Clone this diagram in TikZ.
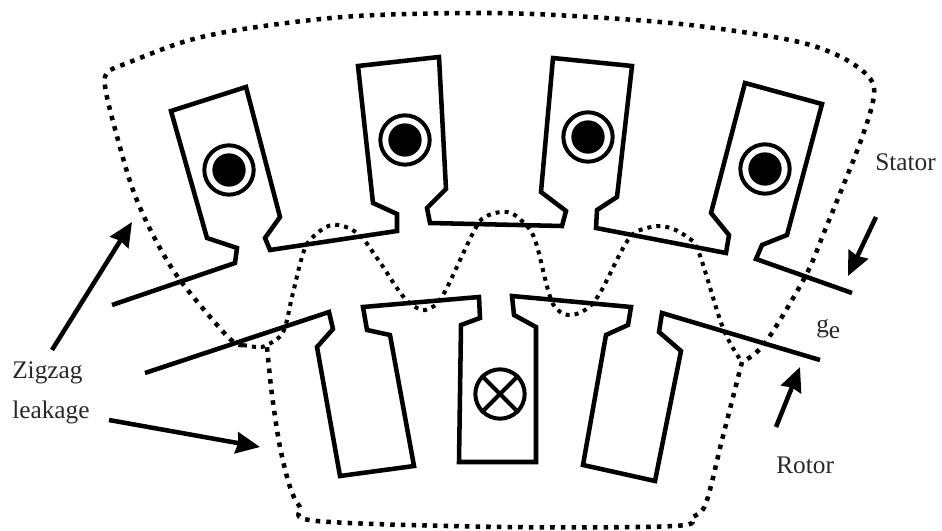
\documentclass[tikz,border=0pt]{standalone}
\usepackage{fontspec}
\setmainfont{Liberation Serif}
\usetikzlibrary{arrows.meta,positioning}
\definecolor{ink}{RGB}{40,40,40}
\tikzset{
  core/.style   = {draw=black, line width=3.4pt, line join=miter},
  leak/.style   = {draw=black, line width=3.4pt, dash pattern=on 3.4pt off 4.6pt},
  leakfine/.style = {draw=black, line width=3pt, dash pattern=on 3pt off 3.8pt},
  pointer/.style = {-{Stealth[length=18pt, width=16pt, inset=1.5pt]}, draw=black, line width=3.4pt},
  ring/.style   = {circle, draw=black, line width=3pt, minimum size=37pt, inner sep=0pt},
  bead/.style   = {circle, fill=black, minimum size=25pt, inner sep=0pt},
  tag/.style    = {text=ink, font=\fontsize{19}{22}\selectfont, inner sep=0pt, anchor=base west},
}
\begin{document}
\begin{tikzpicture}[x=0.75pt, y=-0.75pt]
\useasboundingbox (0,0) rectangle (942,531);

% stator and rotor outlines
\draw[core] (112,305) -- (235,263) -- (237,248) -- (207,238) -- (171,111) -- (246,87)
  -- (280,217) -- (265,238) -- (270,250) -- (397,231) -- (397,214) -- (373,203)
  -- (358,66) -- (439,57) -- (446,189) -- (427,208) -- (430,223) -- (562,226)
  -- (566,211) -- (541,192) -- (553,58) -- (632,66) -- (617,197) -- (597,210)
  -- (596,228) -- (726,253) -- (729,235) -- (711,213) -- (745,83) -- (822,104)
  -- (787,235) -- (762,245) -- (756,259) -- (852,293);
\draw[core] (145,373) -- (329,312) -- (333,329) -- (317,347) -- (340,476) -- (414,466)
  -- (390,335) -- (367,330) -- (363,307) -- (479,297) -- (480,318) -- (461,325)
  -- (459,462) -- (536,462) -- (536,327) -- (514,315) -- (512,296) -- (631,307)
  -- (628,325) -- (606,335) -- (583,465) -- (655,481) -- (681,351) -- (659,332)
  -- (662,313) -- (820,360);

% conductors
\foreach \name/\px/\py in {sa/229/170, sb/405/140, sc/588/137, sd/765/169} {
  \node[ring] (\name) at (\px,\py) {};
  \node[bead] at (\name) {};
}
\node[ring] (ra) at (500,394) {};
\draw[line width=3pt] (ra.north west) -- (ra.south east);
\draw[line width=3pt] (ra.north east) -- (ra.south west);

% leakage paths
\draw[leak] plot[smooth, tension=0.55] coordinates {
  (243,345) (228,337) (180,280) (153,235) (133,190) (118,140) (106,92) (107,73) (130,62)
  (190,40) (257,27) (357,16) (490,13) (590,17) (690,25) (790,40) (837,55) (867,75)
  (874,95) (860,143) (825,230) (805,277) (765,343) (742,362)};
\draw[leak] plot[smooth, tension=0.55] coordinates {
  (742,362) (722,440) (706,503) (693,517) (674,526) (504,527) (317,521) (300,507)
  (290,487) (280,447) (272,395) (267,347)};
\draw[leakfine] plot[smooth, tension=0.6] coordinates {
  (243,345) (257,347) (267,345) (283,332) (292,297) (302,257) (310,240) (332,225)
  (357,233) (377,258) (402,295) (417,308) (428,309) (443,295) (473,233) (485,217)
  (507,212) (523,222) (535,240) (548,290) (555,307) (568,315) (585,310) (600,293)
  (628,240) (647,228) (667,227) (687,237) (699,253) (723,328) (742,362)};

% labels
\node[tag] (statorlab) at (875,171) {Stator};
\node[tag] (rotorlab) at (776,473) {Rotor};
\node[tag] (gaplab) at (816,332) {g\raisebox{-5pt}{e}};
\node[tag] (zigzaglab) at (12,378) {Zigzag};
\node[tag] (leakagelab) at (12,418) {leakage};

% pointers
\coordinate (zzup) at (132,222);
\coordinate (zzdown) at (260,447);
\coordinate (statortip) at (848,276);
\coordinate (rotortip) at (800,367);
\draw[pointer] (52,350) -- (zzup);
\draw[pointer] (109,420) -- (zzdown);
\draw[pointer] (876,217) -- (statortip);
\draw[pointer] (776,427) -- (rotortip);
\end{tikzpicture}
\end{document}
